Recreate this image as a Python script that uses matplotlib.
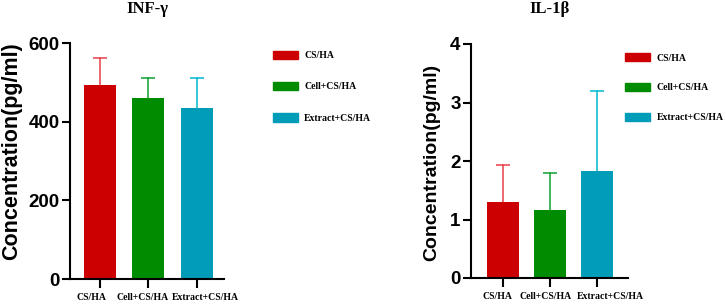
import matplotlib
matplotlib.use("Agg")
import matplotlib.pyplot as plt
import matplotlib.transforms as mtrans
from matplotlib.patches import Patch

groups = ["CS/HA", "Cell+CS/HA", "Extract+CS/HA"]
inf_mean = [492, 461, 434]
inf_err = [71, 50, 77]
il_mean = [1.30, 1.17, 1.83]
il_err = [0.64, 0.62, 1.36]
inf_ticks = [0, 200, 400, 600]
il_ticks = [0, 1, 2, 3, 4]

bar_colors = ["#cc0000", "#008c00", "#009cb8"]
err_colors = ["#e8404a", "#10a030", "#00b8d0"]

W, H = 726, 304
fig = plt.figure(figsize=(W / 100, H / 100), dpi=100)

sans = "Liberation Sans"
serif = "Liberation Serif"


def px(x0, y_top, x1, y_bot):
    return [x0 / W, 1 - y_bot / H, (x1 - x0) / W, (y_bot - y_top) / H]


def panel(rect, means, errs, ylim, ticks, xlim, width, title, tx, ylab_x, ylab_y, ylab_fs,
          leg_anchor, leg_space, lab_dx):
    ax = fig.add_axes(rect)
    xs = list(range(len(means)))
    for i in xs:
        top = means[i] + errs[i]
        ax.plot([xs[i], xs[i]], [means[i], top], color=err_colors[i], lw=1.1, zorder=1)
        ax.plot([xs[i]], [top], marker="_", ms=9.5, mew=1.1, color=err_colors[i], zorder=1)
        ax.bar(xs[i], means[i], width=width, color=bar_colors[i], zorder=2)
    ax.set_ylim(*ylim)
    ax.set_xlim(*xlim)
    ax.set_yticks(ticks)
    ax.set_xticks(xs)
    ax.set_xticklabels([])
    base = mtrans.blended_transform_factory(ax.transData, ax.transAxes)
    for i, dx in zip(xs, lab_dx):
        tr = base + mtrans.ScaledTranslation(dx / 100, -14 / 100, fig.dpi_scale_trans)
        ax.text(xs[i], 0, groups[i], transform=tr, ha="center", va="top",
                fontfamily=serif, fontweight="bold", fontsize=7, clip_on=False)
    for lab in ax.get_yticklabels():
        lab.set_fontfamily(sans)
        lab.set_fontweight("bold")
        lab.set_fontsize(13.5)
    for s in ["top", "right"]:
        ax.spines[s].set_visible(False)
    for s in ["left", "bottom"]:
        ax.spines[s].set_linewidth(1.5)
    ax.tick_params(axis="y", length=6, width=1.5, pad=1.5)
    ax.tick_params(axis="x", length=6.5, width=1.5, pad=3.5)
    fig.text(tx / W, 1 - 9 / H, title, ha="center", va="center",
             fontfamily=serif, fontweight="bold", fontsize=12)
    fig.text(ylab_x / W, 1 - ylab_y / H, "Concentration(pg/ml)", rotation=90,
             ha="center", va="center", fontfamily=sans, fontweight="bold", fontsize=ylab_fs)
    handles = [Patch(facecolor=c, edgecolor=c) for c in bar_colors]
    fig.legend(handles, groups, loc="upper left", bbox_to_anchor=leg_anchor,
               bbox_transform=fig.transFigure, frameon=False,
               prop={"family": serif, "weight": "bold", "size": 7},
               handlelength=2.6, handleheight=0.95, handletextpad=0.65,
               labelspacing=leg_space, borderpad=0, borderaxespad=0)
    return ax


panel(px(70, 43, 224, 279), inf_mean, inf_err, (0, 600), inf_ticks,
      (-0.62, 2.56), 0.66, "INF-\u03b3", 147, 12, 151, 15.5,
      (272.5 / W, 1 - 50.5 / H), 2.25, [-9, -6, 8])
panel(px(471, 44, 628, 278), il_mean, il_err, (0, 4), il_ticks,
      (-0.68, 2.67), 0.68, "IL-1\u03b2", 550, 432, 162, 14,
      (625 / W, 1 - 53 / H), 2.1, [-5, -4, 14])

fig.savefig("out.png", dpi=100)
